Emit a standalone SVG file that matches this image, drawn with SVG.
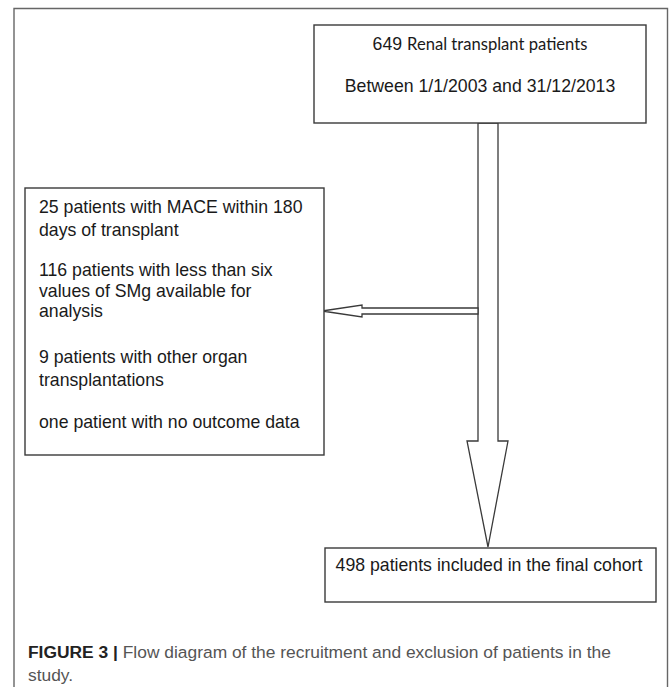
<svg xmlns="http://www.w3.org/2000/svg" width="669" height="687" viewBox="0 0 669 687">
<style>
.box{fill:#fff;stroke:#3a3a3a;stroke-width:1.4}
.arr{fill:#fff;stroke:#3a3a3a;stroke-width:1.3;stroke-linejoin:miter}
.t{font-family:"Liberation Sans",Arial,sans-serif;font-size:17.7px;fill:#1a1a1a}
.cap{font-family:"Liberation Sans Narrow","Liberation Sans",Arial,sans-serif;font-size:17.4px;fill:#555}
</style>
<rect width="669" height="687" fill="#fff"/>
<path d="M14,687 V8.5 H667.5 V687" fill="none" stroke="#666" stroke-width="1.4"/>
<g id="connectors">
<polygon class="arr" points="478,123 498,123 498,441 508,441 488,547 467,441 478,441"/>
<polygon class="arr" points="478,308 362,308 362,305 322,311 362,317 362,314 478,314"/>
</g>
<g id="node-start">
<rect class="box" x="314" y="25" width="332" height="98"/>
<text class="t" x="480" y="50" text-anchor="middle">649 <tspan font-family="Lato,'Open Sans',sans-serif" font-size="16.6px">Renal transplant patients</tspan></text>
<text class="t" x="480" y="92" text-anchor="middle">Between 1/1/2003 and 31/12/2013</text>
</g>
<g id="node-excluded">
<rect class="box" x="25" y="188" width="299" height="267"/>
<text class="t" x="39" y="213">25 patients with MACE within 180</text>
<text class="t" x="39" y="236">days of transplant</text>
<text class="t" x="39" y="276">116 patients with less than six</text>
<text class="t" x="39" y="297">values of SMg available for</text>
<text class="t" x="39" y="317">analysis</text>
<text class="t" x="39" y="363">9 patients with other organ</text>
<text class="t" x="39" y="386">transplantations</text>
<text class="t" x="39" y="428">one patient with no outcome data</text>
</g>
<g id="node-final">
<rect class="box" x="325" y="548" width="331" height="54"/>
<text class="t" x="489" y="571" text-anchor="middle">498 patients included in the final cohort</text>
</g>
<g id="caption">
<text class="cap" x="28" y="658"><tspan font-weight="bold" fill="#222">FIGURE 3 | </tspan>Flow diagram of the recruitment and exclusion of patients in the</text>
<text class="cap" x="28" y="681">study.</text>
</g>
</svg>
